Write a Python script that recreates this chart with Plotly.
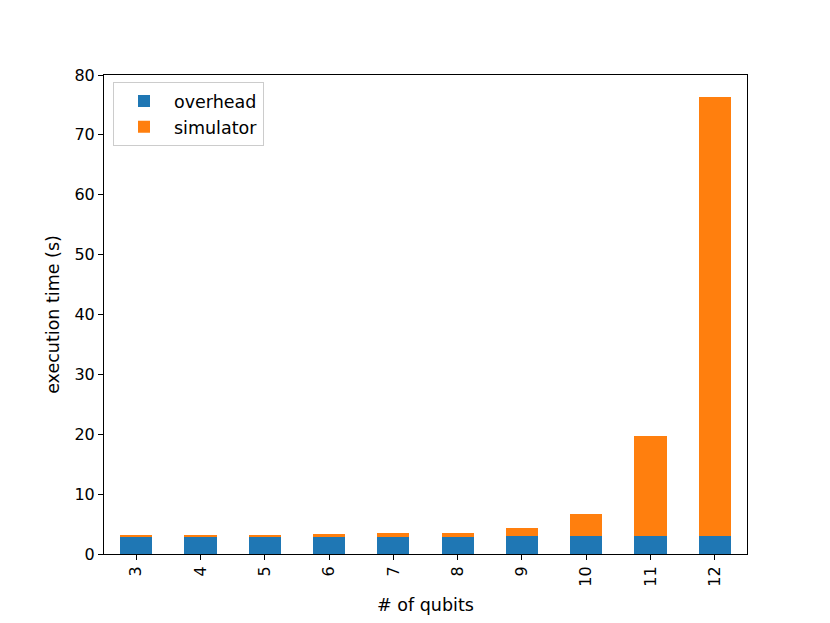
import plotly.graph_objects as go

qubits = ["3", "4", "5", "6", "7", "8", "9", "10", "11", "12"]
overhead = [2.9, 2.9, 2.9, 2.9, 2.9, 2.9, 2.95, 2.95, 2.95, 2.95]
simulator = [0.25, 0.25, 0.35, 0.45, 0.6, 0.6, 1.4, 3.7, 16.7, 73.3]

font = dict(family="DejaVu Sans", size=16, color="black")

fig = go.Figure()
fig.add_bar(x=qubits, y=overhead, name="overhead", marker=dict(color="#1f77b4", line_width=0), width=0.5)
fig.add_bar(x=qubits, y=simulator, name="simulator", marker=dict(color="#ff7f0e", line_width=0), width=0.5)

# page body has an 8px default margin, so figure is 8px smaller and margins shifted
fig.update_layout(
    barmode="stack",
    width=822, height=615,
    margin=dict(l=96, r=83, t=67, b=69, autoexpand=False),
    plot_bgcolor="white", paper_bgcolor="white",
    font=font,
    showlegend=True,
    legend=dict(x=0.014, y=0.985, xanchor="left", yanchor="top", traceorder="normal",
                bordercolor="#cccccc", borderwidth=1, bgcolor="white", itemwidth=50,
                font=dict(family="DejaVu Sans", size=17.5)),
    xaxis=dict(title=dict(text="# of qubits", standoff=12, font=dict(family="DejaVu Sans", size=17.5)),
               tickangle=-90, automargin=False,
               showline=True, linecolor="black", linewidth=1, mirror=True,
               ticks="outside", ticklen=5, tickcolor="black", showgrid=False,
               tickfont=dict(size=16), range=[-0.5, 9.5]),
    yaxis=dict(title=dict(text="execution time (s)", standoff=10, font=dict(family="DejaVu Sans", size=17.5)),
               range=[0, 80], dtick=10, automargin=False,
               showline=True, linecolor="black", linewidth=1, mirror=True,
               ticks="outside", ticklen=5, tickcolor="black", showgrid=False,
               tickfont=dict(size=16), zeroline=False),
)

fig.write_html("out.html")
